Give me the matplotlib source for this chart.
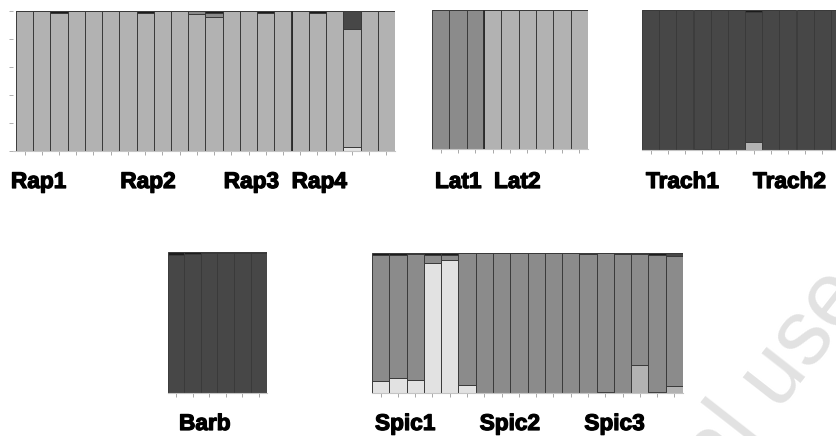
import numpy as np
import matplotlib.pyplot as plt
import matplotlib.patheffects as pe
from matplotlib.transforms import blended_transform_factory, offset_copy

W, H = 837, 436

# cluster order, bottom to top of every bar
CLUSTERS = ["pale", "light", "mid", "dark", "black"]
CLUSTER_COLORS = ["#e2e2e2", "#b2b2b2", "#8b8b8b", "#474747", "#1c1c1c"]
EDGE = "#3a3a3a"

# membership proportions per individual (columns follow CLUSTERS)
rap_q = [
    [0, 1.0, 0, 0, 0], [0, 1.0, 0, 0, 0], [0, .985, 0, 0, .015],
    [0, 1.0, 0, 0, 0], [0, 1.0, 0, 0, 0], [0, 1.0, 0, 0, 0],
    [0, 1.0, 0, 0, 0], [0, .985, 0, 0, .015], [0, 1.0, 0, 0, 0],
    [0, 1.0, 0, 0, 0], [0, .975, .025, 0, 0], [0, .955, .03, 0, .015],
    [0, 1.0, 0, 0, 0], [0, 1.0, 0, 0, 0], [0, .985, 0, 0, .015],
    [0, 1.0, 0, 0, 0],
    [0, 1.0, 0, 0, 0], [0, .985, 0, 0, .015], [0, 1.0, 0, 0, 0],
    [.03, .84, 0, .13, 0], [0, 1.0, 0, 0, 0], [0, 1.0, 0, 0, 0],
]
rap_groups = ["Rap1", "Rap2", "Rap3", "Rap4"]
rap_sizes = [6, 6, 4, 6]

lat_q = [
    [0, 0, 1.0, 0, 0], [0, 0, 1.0, 0, 0], [0, 0, 1.0, 0, 0],
    [0, 1.0, 0, 0, 0], [0, 1.0, 0, 0, 0], [0, 1.0, 0, 0, 0],
    [0, 1.0, 0, 0, 0], [0, 1.0, 0, 0, 0], [0, 1.0, 0, 0, 0],
]
lat_groups = ["Lat1", "Lat2"]
lat_sizes = [3, 6]

trach_q = [
    [0, 0, 0, 1.0, 0], [0, 0, 0, 1.0, 0], [0, 0, 0, 1.0, 0],
    [.008, 0, 0, .992, 0], [.008, 0, 0, .992, 0], [0, 0, 0, 1.0, 0],
    [0, .06, 0, .925, .015], [0, 0, 0, 1.0, 0], [0, 0, 0, 1.0, 0],
    [0, 0, 0, 1.0, 0], [0, 0, 0, 1.0, 0], [0, 0, 0, 1.0, 0],
]
trach_groups = ["Trach1", "Trach2"]
trach_sizes = [6, 6]

barb_q = [
    [0, 0, 0, .98, .02], [0, 0, 0, .985, .015], [0, 0, 0, .995, .005],
    [0, 0, 0, .995, .005], [0, 0, 0, .995, .005], [0, 0, 0, .99, .01],
]
barb_groups = ["Barb"]
barb_sizes = [6]

spic_q = [
    [.084, 0, .9, 0, .016], [.107, 0, .88, 0, .013], [.09, 0, .9, 0, .01],
    [.93, 0, .055, 0, .015], [.95, 0, .035, 0, .015], [.06, 0, .94, 0, 0],
    [0, 0, 1.0, 0, 0], [0, 0, 1.0, 0, 0], [0, 0, 1.0, 0, 0],
    [0, 0, 1.0, 0, 0], [0, 0, 1.0, 0, 0], [0, 0, 1.0, 0, 0],
    [0, 0, .99, 0, .01], [.008, 0, .992, 0, 0], [0, 0, .99, 0, .01],
    [0, .20, .79, 0, .01], [.008, 0, .977, 0, .015], [0, .05, .93, .02, 0],
]
spic_groups = ["Spic1", "Spic2", "Spic3"]
spic_sizes = [6, 6, 6]

# axes boxes in pixels: left, top, right, bottom ; label nudges in pixels
PANELS = [
    dict(q=rap_q, groups=rap_groups, sizes=rap_sizes, box=(13, 11, 395, 151),
         xpad=0.17, dx=[-5, 1, 1, 0], base=188, yticks=True, splits=[16]),
    dict(q=lat_q, groups=lat_groups, sizes=lat_sizes, box=(432, 10, 588, 149),
         xpad=0, dx=[3, 10], base=188, yticks=False, splits=[3]),
    dict(q=trach_q, groups=trach_groups, sizes=trach_sizes, box=(642, 10, 848, 150),
         xpad=0, dx=[4, 8], base=188, yticks=False, splits=[]),
    dict(q=barb_q, groups=barb_groups, sizes=barb_sizes, box=(168, 252, 267, 393),
         xpad=0, dx=[11], base=430, yticks=False, splits=[]),
    dict(q=spic_q, groups=spic_groups, sizes=spic_sizes, box=(372, 253, 683, 393),
         xpad=0, dx=[3, 4, 5], base=430, yticks=False, splits=[]),
]

LABEL_FX = [pe.withStroke(linewidth=0.9, foreground="#000000")]


def draw_panel(fig, p):
    l, t, r, b = p["box"]
    ax = fig.add_axes([l / W, (H - b) / H, (r - l) / W, (b - t) / H])
    q = np.asarray(p["q"], dtype=float)
    n = len(q)
    x = np.arange(n)
    bottom = np.zeros(n)
    for k in range(q.shape[1]):
        ax.bar(x, q[:, k], bottom=bottom, width=1.0, color=CLUSTER_COLORS[k],
               edgecolor=EDGE, linewidth=0.7, zorder=2)
        bottom += q[:, k]
    for s in p["splits"]:
        ax.axvline(s - 0.5, color="#2a2a2a", lw=1.3, zorder=3)
    ax.set_xlim(-0.5 - p["xpad"], n - 0.5)
    ax.set_ylim(0, 1)
    for side in ["top", "right", "left"]:
        ax.spines[side].set_visible(False)
    ax.spines["bottom"].set_color("#c4c4c4")
    ax.spines["bottom"].set_linewidth(0.8)
    ax.set_xticks(x)
    ax.set_xticklabels([])
    ax.tick_params(axis="x", length=3, width=0.7, color="#a8a8a8")
    if p["yticks"]:
        ax.set_yticks(np.linspace(0, 1, 6))
        ax.set_yticklabels([])
        ax.tick_params(axis="y", length=3, width=0.7, color="#b0b0b0")
    else:
        ax.set_yticks([])

    trans = blended_transform_factory(ax.transData, fig.transFigure)
    start = 0
    for name, size, dx in zip(p["groups"], p["sizes"], p["dx"]):
        tr = offset_copy(trans, fig=fig, x=dx, y=0, units="dots")
        ax.text(start - 0.5, (H - p["base"]) / H, name, transform=tr,
                ha="left", va="baseline", fontsize=16.3, fontweight="bold",
                family="Liberation Sans", color="#000000", clip_on=False,
                path_effects=LABEL_FX)
        start += size
    return ax


fig = plt.figure(figsize=(W / 100, H / 100), dpi=100)
fig.patch.set_facecolor("white")

# faint watermark in the lower right corner, mostly outside the canvas
fig.text(446 / W, -401 / H, "For personal use only", rotation=52,
         rotation_mode="anchor", ha="left", va="baseline", fontsize=66,
         family="Liberation Sans", color="#e2e2e2", zorder=0)

for p in PANELS:
    draw_panel(fig, p)

fig.savefig("out.png", dpi=100)
